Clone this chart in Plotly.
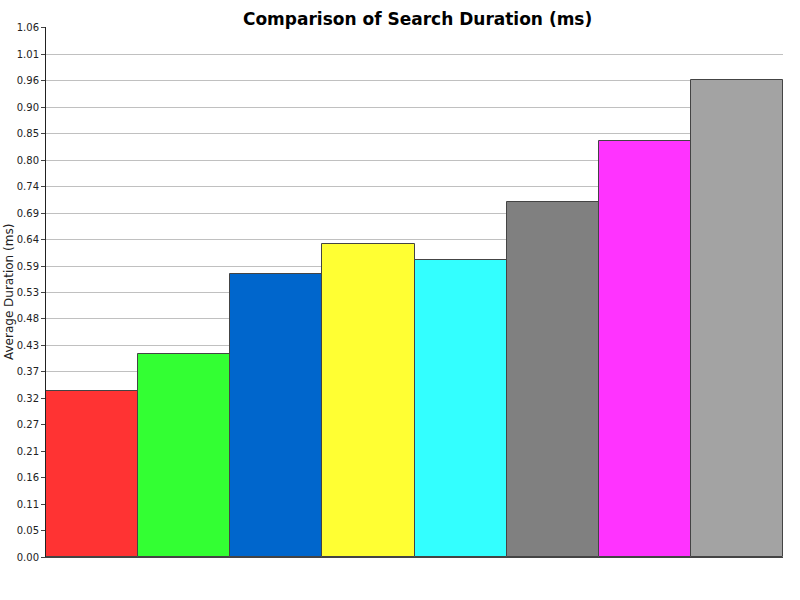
import plotly.graph_objects as go

# Data
series_names = ["Series 1", "Series 2", "Series 3", "Series 4",
                "Series 5", "Series 6", "Series 7", "Series 8"]
durations = [0.333, 0.408, 0.569, 0.629, 0.597, 0.715, 0.836, 0.959]
bar_colors = ["#FF3333", "#33FF33", "#0066CC", "#FFFF33",
              "#33FFFF", "#808080", "#FF33FF", "#A3A3A3"]
tick_values = [i * 0.0532 for i in range(21)]
tick_labels = ["0.00", "0.05", "0.11", "0.16", "0.21", "0.27", "0.32", "0.37",
               "0.43", "0.48", "0.53", "0.59", "0.64", "0.69", "0.74", "0.80",
               "0.85", "0.90", "0.96", "1.01", "1.06"]

fig = go.Figure(go.Bar(
    x=series_names,
    y=durations,
    marker=dict(color=bar_colors, line=dict(color="#444444", width=1)),
    showlegend=False,
    hoverinfo="y",
))

fig.update_layout(
    width=800, height=600,
    paper_bgcolor="white", plot_bgcolor="white",
    margin=dict(l=46, r=17, t=27, b=43, autoexpand=False),
    bargap=0,
    title=dict(text="<b>Comparison of Search Duration (ms)</b>",
               x=0.522, xanchor="center", y=0.969, yanchor="middle",
               font=dict(family="DejaVu Sans", size=17, color="black")),
    font=dict(family="DejaVu Sans", color="#333333"),
    annotations=[dict(text="Average Duration (ms)", textangle=-90,
                      xref="paper", yref="paper", x=-0.0502, y=0.5,
                      xanchor="center", yanchor="middle", showarrow=False,
                      font=dict(family="DejaVu Sans", size=12, color="#222222"))],
)
fig.update_xaxes(showticklabels=False, ticks="", showgrid=False,
                 showline=True, linecolor="#444444", linewidth=1,
                 range=[-0.5, 7.5], automargin=False)
fig.update_yaxes(range=[0, 1.066], tickvals=tick_values, ticktext=tick_labels,
                 showgrid=True, gridcolor="#C0C0C0", gridwidth=1,
                 showline=True, linecolor="#222222", linewidth=1,
                 ticks="outside", ticklen=4, tickcolor="#444444",
                 tickfont=dict(family="DejaVu Sans", size=10, color="#222222"),
                 automargin=False, zeroline=False)

fig.write_html("out.html", config={"displayModeBar": False},
               post_script="document.body.style.margin='0';")
